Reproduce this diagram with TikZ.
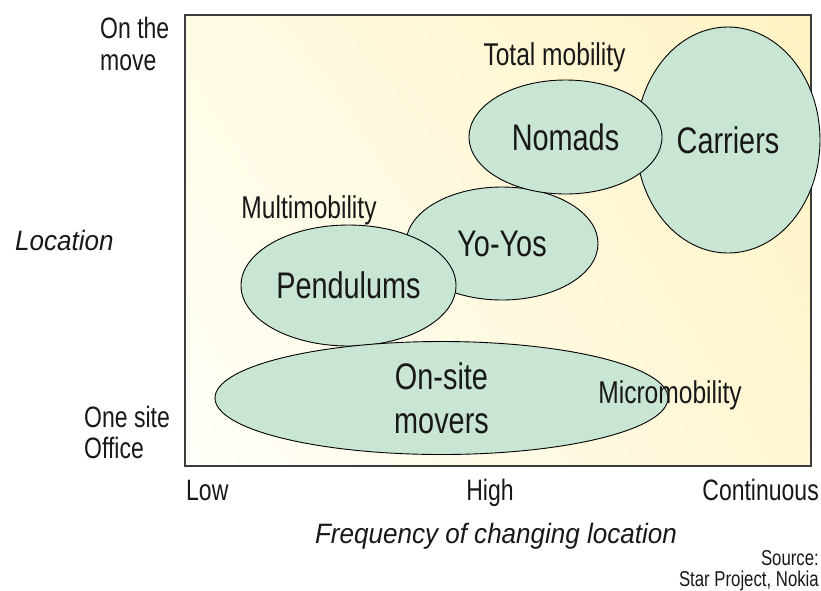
\documentclass[tikz,border=0pt]{standalone}
\usepackage{fontspec}
\setmainfont[FakeStretch=0.78]{Liberation Sans}
\newfontfamily\italfont[FakeStretch=0.93]{Liberation Sans}
\usetikzlibrary{shapes.geometric,shadings}

\definecolor{zonegreen}{RGB}{201,229,212}
\definecolor{ink}{RGB}{24,24,24}
\definecolor{paperA}{RGB}{255,251,228}
\definecolor{paperB}{RGB}{255,242,196}
\definecolor{paperC}{RGB}{255,255,250}
\definecolor{paperD}{RGB}{255,246,210}
\definecolor{framegray}{RGB}{60,60,60}

\tikzset{
  region/.style={ellipse, draw=black, line width=0.9pt, fill=zonegreen,
    inner sep=0pt, text=ink, align=center, font=\fontsize{37}{44}\selectfont},
  lab/.style={inner sep=0pt, text=ink, font=\fontsize{31.5}{36}\selectfont},
  axislab/.style={inner sep=0pt, text=ink, font=\fontsize{29.5}{34}\selectfont},
  axistitle/.style={inner sep=0pt, text=ink, font=\italfont\itshape\fontsize{28}{32}\selectfont},
  srclab/.style={inner sep=0pt, text=ink, font=\fontsize{21.5}{25}\selectfont},
}

\begin{document}
\begin{tikzpicture}[x=1pt,y=-1pt]
\useasboundingbox (0,0) rectangle (821,590);

% plot area: pale paper shading and frame
\shade[upper left=paperA, upper right=paperB, lower left=paperC, lower right=paperD]
  (185,15) rectangle (811,466);
\draw[framegray, line width=1.2pt] (185,15) rectangle (811,466);

% mobility groups
\node[region, minimum width=184pt, minimum height=226pt] (carriers) at (728,140) {Carriers};
\node[region, minimum width=192pt, minimum height=113pt] (yoyos) at (502,243.5) {Yo-Yos};
\node[region, minimum width=193pt, minimum height=114pt] (nomads) at (565.5,137) {Nomads};
\node[region, minimum width=215pt, minimum height=121pt] (pendulums) at (348.5,285.5) {Pendulums};
\node[region, minimum width=453pt, minimum height=113pt] (onsite) at (441.5,398) {On-site\\movers};

% mobility levels
\node[lab, anchor=base] (total) at (554.5,65) {Total mobility};
\node[lab, anchor=base] (multi) at (309,218) {Multimobility};
\node[lab, anchor=base] (micro) at (670,403) {Micromobility};

% vertical axis
\node[axislab, anchor=base west] (onthe) at (100,38) {On the};
\node[axislab, anchor=base west] (move) at (100,70) {move};
\node[axistitle, anchor=base west] (location) at (15,250) {Location};
\node[axislab, anchor=base west] (onesite) at (84,427) {One site};
\node[axislab, anchor=base west] (office) at (84,458) {Office};

% horizontal axis
\node[axislab, anchor=base west] (low) at (186,500) {Low};
\node[axislab, anchor=base] (high) at (490,500) {High};
\node[axislab, anchor=base east] (continuous) at (819,500) {Continuous};
\node[axistitle, anchor=base] (frequency) at (496,543) {Frequency of changing location};

% source
\node[srclab, anchor=base east] (source) at (819,565) {Source:};
\node[srclab, anchor=base east] (star) at (819,586) {Star Project, Nokia};
\end{tikzpicture}
\end{document}
